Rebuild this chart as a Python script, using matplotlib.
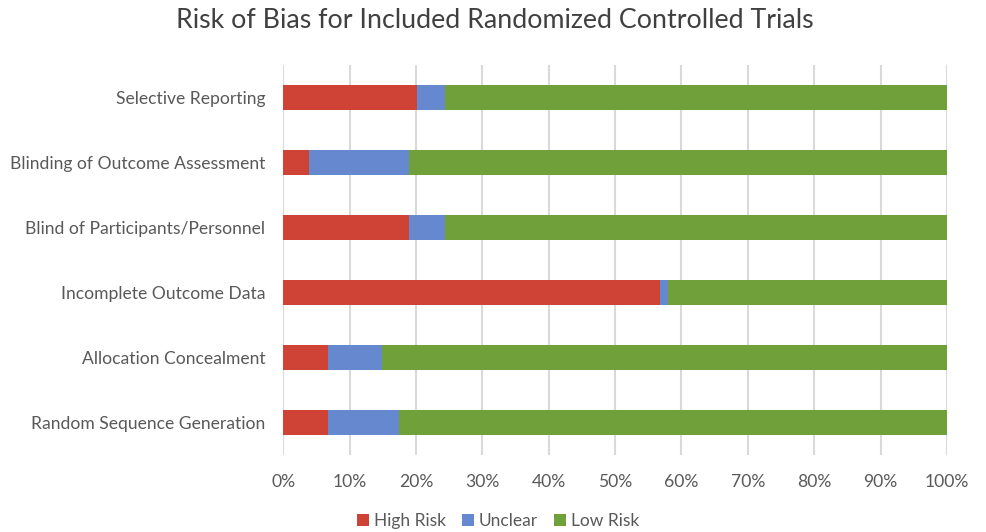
import matplotlib
matplotlib.use('Agg')
import matplotlib.pyplot as plt
from matplotlib.ticker import PercentFormatter

plt.rcParams['font.family'] = ['Lato', 'DejaVu Sans']

# categories from bottom to top
domains = ['Random Sequence Generation', 'Allocation Concealment',
           'Incomplete Outcome Data', 'Blind of Participants/Personnel',
           'Blinding of Outcome Assessment', 'Selective Reporting']
high_risk = [6.7, 6.7, 56.7, 18.9, 3.9, 20.2]
unclear = [10.8, 8.1, 1.3, 5.5, 15.0, 4.2]
low_risk = [100 - h - u for h, u in zip(high_risk, unclear)]

series_names = ['High Risk', 'Unclear', 'Low Risk']
colors = ['#CF4236', '#6588CF', '#70A03A']

fig = plt.figure(figsize=(9.86, 5.32), dpi=100)
ax = fig.add_axes([0.2873, 0.1447, 0.6731, 0.7331])

left = [0] * len(domains)
for name, vals, c in zip(series_names, [high_risk, unclear, low_risk], colors):
    ax.barh(domains, vals, left=left, height=0.385, color=c, label=name, zorder=3)
    left = [l + v for l, v in zip(left, vals)]

ax.set_xlim(0, 100)
ax.set_ylim(-0.5, len(domains) - 0.5)
ax.set_xticks(range(0, 101, 10))
ax.xaxis.set_major_formatter(PercentFormatter(decimals=0))
ax.grid(axis='x', color='#D9D9D9', linewidth=1.5, zorder=0)
for s in ax.spines.values():
    s.set_visible(False)
ax.tick_params(length=0, labelsize=12.6, colors='#595959', pad=13)
ax.tick_params(axis='x', pad=14)

fig.text(0.502, 0.962, 'Risk of Bias for Included Randomized Controlled Trials',
         ha='center', va='center', fontsize=19.3, color='#404040')

fig.legend(loc='center', bbox_to_anchor=(0.505, 0.021), ncol=3, frameon=False,
           fontsize=12.5, handlelength=0.7, handleheight=0.7, handletextpad=0.3,
           columnspacing=0.9, labelcolor='#595959')

fig.savefig('out.png', dpi=100)
